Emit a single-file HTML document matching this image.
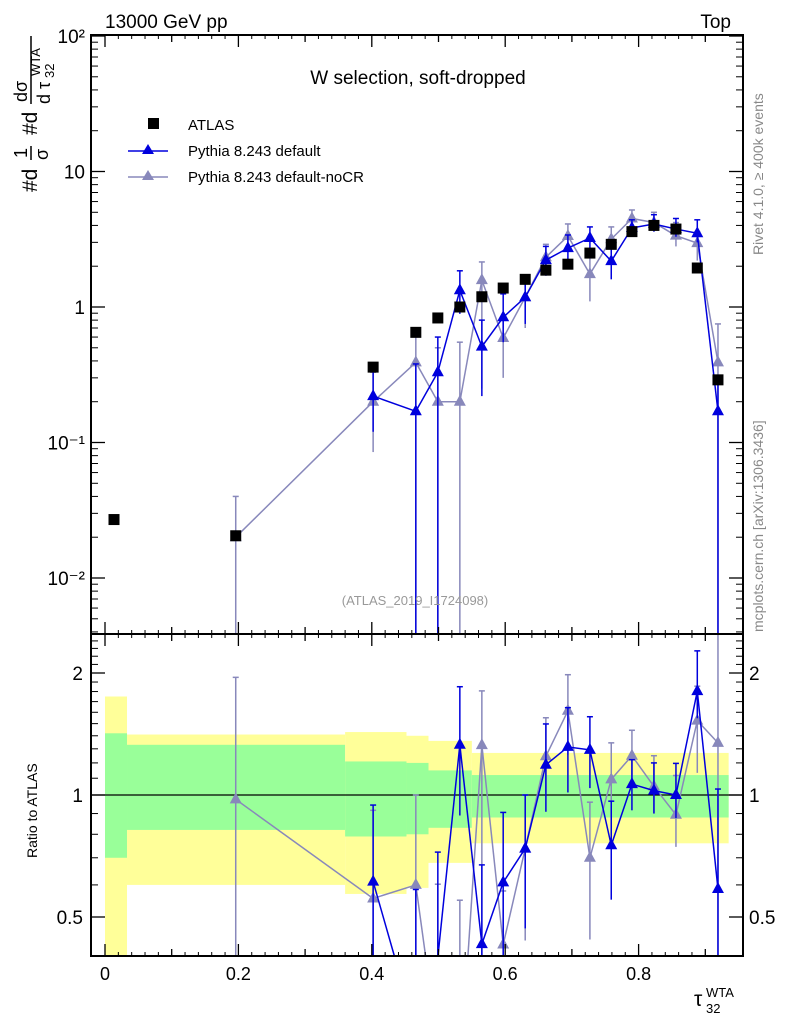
<!DOCTYPE html>
<html><head><meta charset="utf-8"><style>
html,body{margin:0;padding:0;background:#fff;overflow:hidden;width:786px;height:1024px;}
svg{display:block;font-family:"Liberation Sans",sans-serif;}
</style></head><body>
<svg id="c" width="786" height="1024" viewBox="0 0 786 1024" xmlns="http://www.w3.org/2000/svg">
<g id="bands"></g>
<g id="mainVp"></g>
<g id="ratioVp"></g>
<g id="axes"></g>
<text x="105" y="28" font-size="19">13000 GeV pp</text>
<text x="731" y="28" font-size="19" text-anchor="end">Top</text>
<text x="418" y="84" font-size="19" text-anchor="middle">W selection, soft-dropped</text>
<text x="415" y="605" font-size="13" fill="#999" text-anchor="middle">(ATLAS_2019_I1724098)</text>
<text transform="translate(763,255) rotate(-90)" font-size="14" fill="#888">Rivet 4.1.0, ≥ 400k events</text>
<text transform="translate(763,632) rotate(-90)" font-size="14" fill="#888">mcplots.cern.ch [arXiv:1306.3436]</text>
<text transform="translate(37,858) rotate(-90)" font-size="14">Ratio to ATLAS</text>
<g transform="translate(37,192) rotate(-90)" font-size="21">
<text x="0" y="0">#d</text><text x="34" y="-10" font-size="18">1</text><line x1="32" y1="-6" x2="46" y2="-6" stroke="#000" stroke-width="1.5"/><text x="32" y="11" font-size="18">σ</text>
<text x="57" y="0">#d</text><text x="90" y="-10" font-size="18">dσ</text><line x1="88" y1="-6" x2="156" y2="-6" stroke="#000" stroke-width="1.5"/><text x="88" y="13" font-size="18">d τ</text><text x="116" y="3" font-size="13">WTA</text><text x="114" y="17" font-size="13">32</text>
</g>
<g><text x="694" y="1006" font-size="21">τ</text><text x="706" y="997" font-size="13">WTA</text><text x="706" y="1013" font-size="13">32</text></g>
<g>
<rect x="148" y="118" width="11" height="11" fill="#000"/>
<text x="188" y="130" font-size="15">ATLAS</text>
<line x1="128" y1="151" x2="168" y2="151" stroke="#0000dd" stroke-width="1.5"/><polygon points="148,144 154,154 142,154" fill="#0000dd"/>
<text x="188" y="156" font-size="15">Pythia 8.243 default</text>
<line x1="128" y1="177" x2="168" y2="177" stroke="#8888bb" stroke-width="1.5"/><polygon points="148,170 154,180 142,180" fill="#8888bb"/>
<text x="188" y="182" font-size="15">Pythia 8.243 default-noCR</text>
</g>
</svg>
<script>
const xVals=[0.0135,0.196,0.402,0.466,0.499,0.532,0.565,0.597,0.630,0.661,0.694,0.727,0.759,0.790,0.823,0.856,0.888,0.919];
const atlas=[0.027,0.0205,0.36,0.65,0.83,1.0,1.19,1.38,1.6,1.87,2.07,2.5,2.9,3.6,4.0,3.76,1.94,0.29];
const defIdx=[2,3,4,5,6,7,8,9,10,11,12,13,14,15,16,17];
const pyDef=[0.22,0.17,0.33,1.33,0.51,0.84,1.18,2.22,2.72,3.23,2.18,3.83,4.1,3.76,3.5,0.17];
const pyDefLo=[0.12,0.0001,0.0001,0.89,0.22,0.55,0.75,1.7,2.1,2.6,1.6,3.3,3.6,3.3,3.0,0.0001];
const pyDefHi=[0.34,0.38,0.6,1.85,0.8,1.25,1.6,2.8,3.4,3.9,2.8,4.4,4.8,4.5,4.4,0.3];
const noIdx=[1,2,3,4,5,6,7,8,9,10,11,12,13,14,15,16,17];
const pyNo=[0.02,0.2,0.39,0.2,0.2,1.58,0.59,1.18,2.33,3.34,1.75,3.17,4.5,4.2,3.36,2.96,0.39];
const pyNoLo=[0.0001,0.085,0.0001,0.0001,0.0001,0.25,0.3,0.7,1.9,2.6,1.1,2.5,3.8,3.6,2.8,2.2,0.0001];
const pyNoHi=[0.04,0.33,0.65,0.5,0.55,2.15,0.8,1.6,2.9,4.1,2.4,3.9,5.2,5.0,4.2,3.6,0.75];
const bandEdges=[0,0.033,0.36,0.452,0.485,0.55,0.935];
const yellowHi=[1.75,1.41,1.43,1.40,1.36,1.27];
const yellowLo=[0.3,0.6,0.57,0.59,0.68,0.76];
const greenHi=[1.42,1.33,1.21,1.2,1.15,1.12];
const greenLo=[0.7,0.82,0.79,0.8,0.83,0.88];
const xTicks=[0,0.2,0.4,0.6,0.8];
const yTickExp=[-2,-1,0,1,2];
const yTickLabels=["10⁻²","10⁻¹","1","10","10²"];
const rTicks=[0.5,1,2];
const rTickLabels=["0.5","1","2"];

const L=91,R=743,T=35,M=634,B=956;
const X=v=>105+667*v;
const Y=v=>307-135.5*Math.log10(v);
const RY=r=>795-122*Math.log2(r);
const clampM=y=>Math.min(Math.max(y,T),M), clampR=y=>Math.min(Math.max(y,M),B);
const NS="http://www.w3.org/2000/svg";
function mk(parent,tag,attrs){const e=document.createElementNS(NS,tag);for(const k in attrs)e.setAttribute(k,attrs[k]);parent.appendChild(e);return e;}
const bands=document.getElementById('bands'),axes=document.getElementById('axes');
const mainVp=document.getElementById('mainVp'),ratioVp=document.getElementById('ratioVp');

for(let i=0;i<yellowHi.length;i++){
  const x0=X(bandEdges[i]),x1=X(bandEdges[i+1]);
  const y=mk(bands,'rect',{x:x0,y:clampR(RY(yellowHi[i])),width:x1-x0,height:clampR(RY(yellowLo[i]))-clampR(RY(yellowHi[i])),fill:'#ffff99'});
  
  
  const g=mk(bands,'rect',{x:x0,y:RY(greenHi[i]),width:x1-x0,height:RY(greenLo[i])-RY(greenHi[i]),fill:'#99ff99'});
  
  
}
mk(bands,'line',{x1:L,x2:R,y1:RY(1),y2:RY(1),stroke:'#000','stroke-width':1.2});

function clipSeg(x1,y1,x2,y2,lo,hi){
  let t0=0,t1=1;const dy=y2-y1;
  if(dy===0){return (y1<lo||y1>hi)?null:[x1,y1,x2,y2];}
  let ta=(lo-y1)/dy,tb=(hi-y1)/dy;if(ta>tb)[ta,tb]=[tb,ta];
  t0=Math.max(t0,ta);t1=Math.min(t1,tb);if(t0>=t1)return null;
  return [x1+(x2-x1)*t0,y1+dy*t0,x1+(x2-x1)*t1,y1+dy*t1];
}
function tri(g,x,y,col){mk(g,'polygon',{points:`${x},${y-7} ${x+6},${y+4} ${x-6},${y+4}`,fill:col});}
function series(idx,vals,lo,hi,col,name){
  const g=mk(mainVp,'g',{});
  
  
  const gr=mk(ratioVp,'g',{});
  
  
  const pts=[],rpts=[];
  vals.forEach((v,i)=>{
    const x=X(xVals[idx[i]]),a=atlas[idx[i]];
    pts.push([x,Y(v)]);rpts.push([x,RY(v/a)]);
    mk(g,'line',{x1:x,x2:x,y1:clampM(Y(hi[i])),y2:clampM(Y(lo[i])),stroke:col,'stroke-width':1.5});
    mk(g,'line',{x1:x-3,x2:x+3,y1:clampM(Y(hi[i])),y2:clampM(Y(hi[i])),stroke:col,'stroke-width':1.5});
    const rh=clampR(RY(hi[i]/a)),rl=clampR(RY(lo[i]/a));
    if(rl>rh)mk(gr,'line',{x1:x,x2:x,y1:rh,y2:rl,stroke:col,'stroke-width':1.5});
    if(RY(hi[i]/a)>=M)mk(gr,'line',{x1:x-3,x2:x+3,y1:rh,y2:rh,stroke:col,'stroke-width':1.5});
  });
  for(let i=0;i+1<pts.length;i++){
    const s=clipSeg(pts[i][0],pts[i][1],pts[i+1][0],pts[i+1][1],T,M);
    if(s)mk(g,'line',{x1:s[0],y1:s[1],x2:s[2],y2:s[3],stroke:col,'stroke-width':1.5});
    const r=clipSeg(rpts[i][0],rpts[i][1],rpts[i+1][0],rpts[i+1][1],M,B);
    if(r)mk(gr,'line',{x1:r[0],y1:r[1],x2:r[2],y2:r[3],stroke:col,'stroke-width':1.5});
  }
  vals.forEach((v,i)=>{const x=X(xVals[idx[i]]),a=atlas[idx[i]];const ym=Y(v),yr=RY(v/a);
    if(ym<=M-4)tri(g,x,ym,col); if(yr>=M&&yr<=B-4)tri(gr,x,yr,col);});
}
series(noIdx,pyNo,pyNoLo,pyNoHi,'#8888bb','series-pythia-nocr');
series(defIdx,pyDef,pyDefLo,pyDefHi,'#0000dd','series-pythia-default');
const ga=mk(mainVp,'g',{});


atlas.forEach((v,i)=>{const r=mk(ga,'rect',{x:X(xVals[i])-5.5,y:Y(v)-5.5,width:11,height:11,fill:'#000'});
  
  });

mk(axes,'rect',{x:L,y:T,width:R-L,height:B-T,fill:'none',stroke:'#000','stroke-width':2});
mk(axes,'line',{x1:L,x2:R,y1:M,y2:M,stroke:'#000','stroke-width':2});
for(let k=0;k<=9;k++){const v=k*0.1,x=X(v),len=k%2===0?12:7;
  [[T,1],[M,-1],[M,1],[B,-1]].forEach(([y0,d])=>mk(axes,'line',{x1:x,x2:x,y1:y0,y2:y0+d*len,stroke:'#000','stroke-width':1.3}));
  for(let s=1;s<5&&k<9;s++){const xs=X(v+s*0.02);if(xs<R)[[T,1],[M,-1],[M,1],[B,-1]].forEach(([y0,d])=>mk(axes,'line',{x1:xs,x2:xs,y1:y0,y2:y0+d*4,stroke:'#000','stroke-width':1}));}
}
xTicks.forEach(v=>{const t=mk(axes,'text',{x:X(v),y:980,'font-size':18,'text-anchor':'middle'});t.textContent=String(v);
  
  });
yTickExp.forEach((e,i)=>{const y=Y(Math.pow(10,e));
  mk(axes,'line',{x1:L,x2:L+14,y1:y,y2:y,stroke:'#000','stroke-width':1.3});mk(axes,'line',{x1:R,x2:R-14,y1:y,y2:y,stroke:'#000','stroke-width':1.3});
  const t=mk(axes,'text',{x:L-6,y:y+7,'font-size':19,'text-anchor':'end'});t.textContent=yTickLabels[i];
  
  
  for(let m=2;m<=9;m++){const ym=Y(m*Math.pow(10,e-1));if(ym>T&&ym<M){mk(axes,'line',{x1:L,x2:L+7,y1:ym,y2:ym,stroke:'#000'});mk(axes,'line',{x1:R,x2:R-7,y1:ym,y2:ym,stroke:'#000'});}}
});
rTicks.forEach((r,i)=>{const y=RY(r);
  mk(axes,'line',{x1:L,x2:L+14,y1:y,y2:y,stroke:'#000','stroke-width':1.3});mk(axes,'line',{x1:R,x2:R-14,y1:y,y2:y,stroke:'#000','stroke-width':1.3});
  const t=mk(axes,'text',{x:L-8,y:y+7,'font-size':19,'text-anchor':'end'});t.textContent=rTickLabels[i];
  
  
  const t2=mk(axes,'text',{x:R+6,y:y+7,'font-size':19});t2.textContent=rTickLabels[i];
  
  });
for(let r=0.4;r<2.5;r+=0.1){if(Math.abs(r-0.5)<1e-6||Math.abs(r-1)<1e-6||Math.abs(r-2)<1e-6)continue;const y=RY(r);if(y>M&&y<B){mk(axes,'line',{x1:L,x2:L+7,y1:y,y2:y,stroke:'#000'});mk(axes,'line',{x1:R,x2:R-7,y1:y,y2:y,stroke:'#000'});}}
</script>
</body></html>
